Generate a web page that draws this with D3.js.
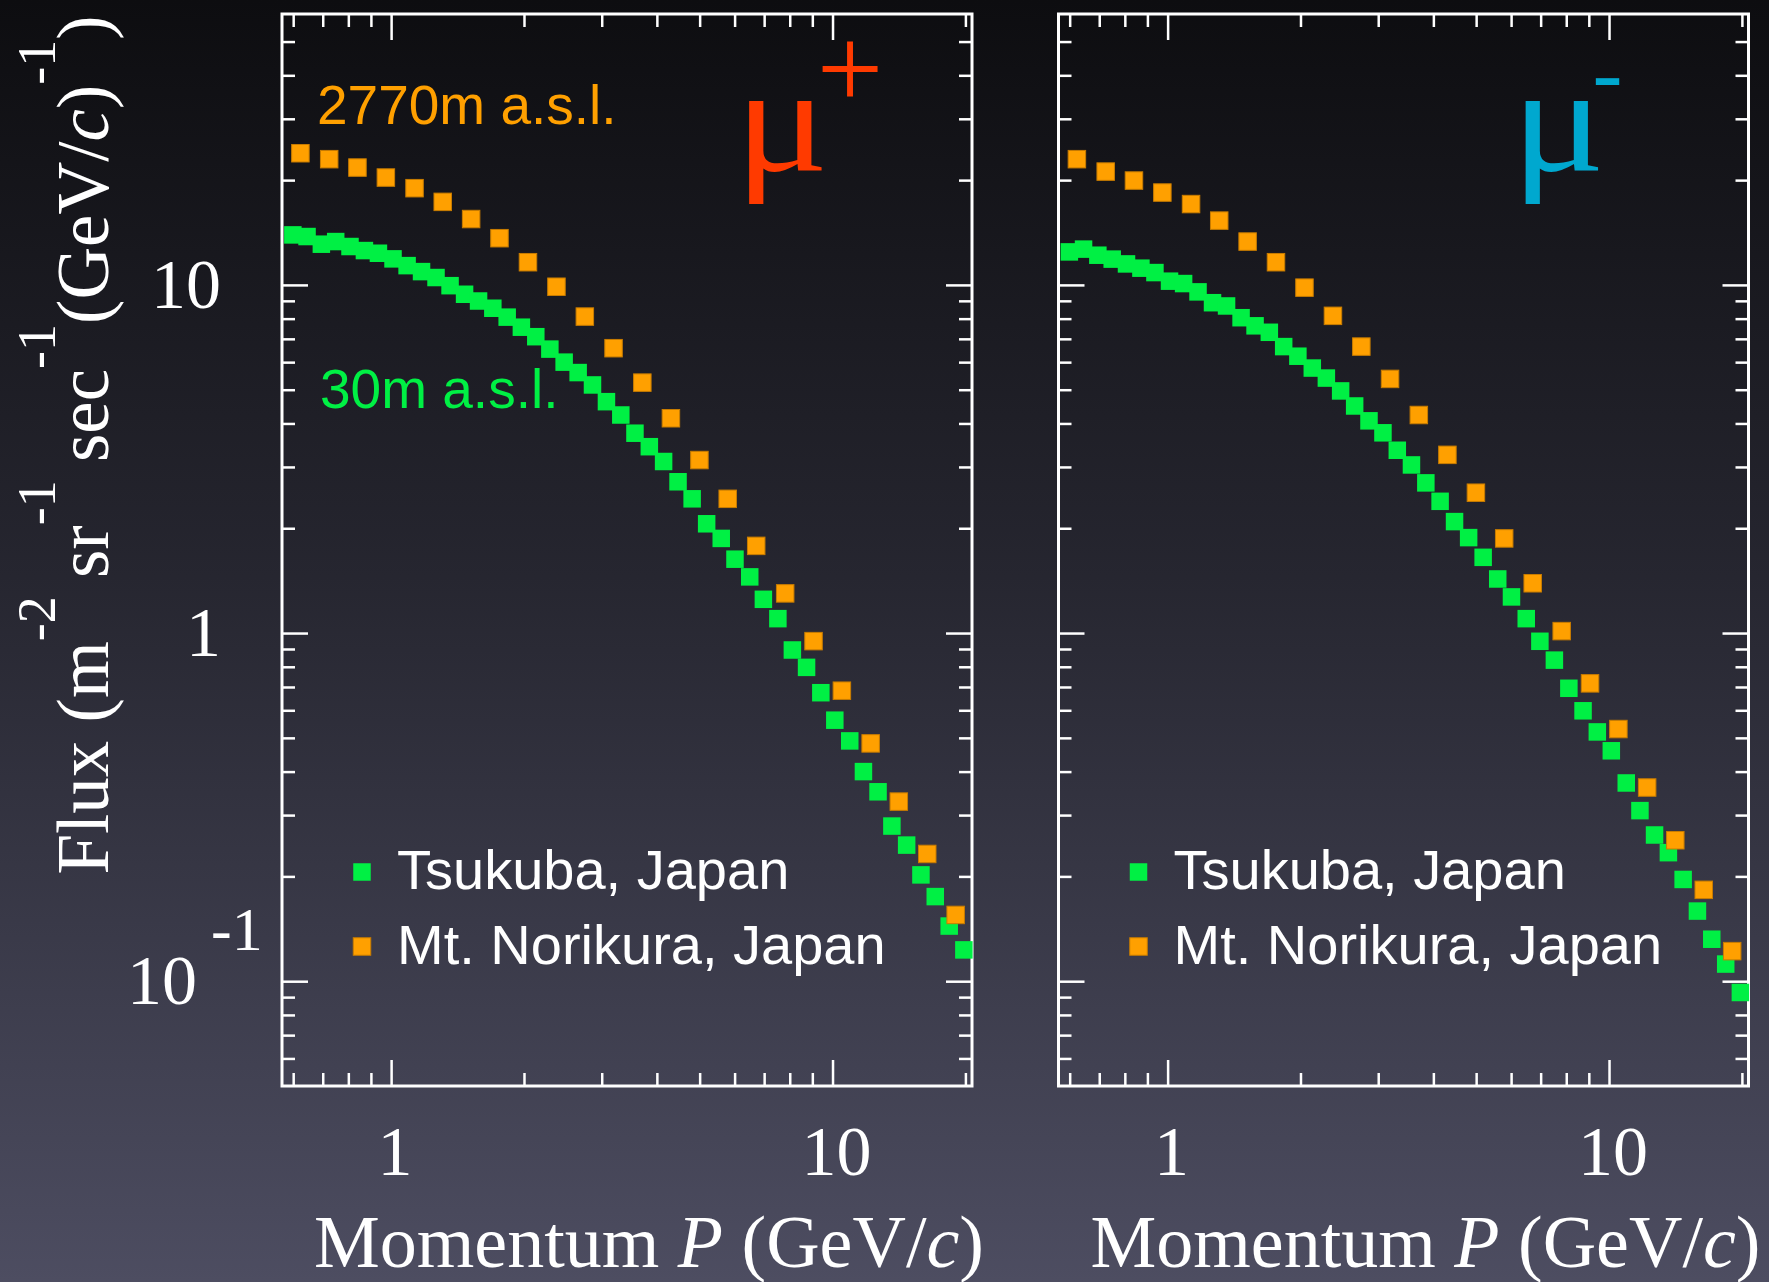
<!DOCTYPE html>
<html>
<head>
<meta charset="utf-8">
<script src="https://cdn.jsdelivr.net/npm/d3@7"></script>
<style>
    body { margin: 0; background: #000; }
    svg { display: block; }
</style>
</head>
<body>
<div id="chart"></div>
<script>
// Momentum bins (GeV/c)
let momentumTsukuba = [0.599, 0.645, 0.695, 0.749, 0.807, 0.870, 0.936, 1.010, 1.087, 1.172, 1.264, 1.360,
    1.467, 1.578, 1.700, 1.832, 1.973, 2.127, 2.289, 2.466, 2.653, 2.859, 3.075, 3.314,
    3.568, 3.846, 4.143, 4.467, 4.808, 5.186, 5.596, 6.012, 6.493, 6.972, 7.520, 8.110,
    8.733, 9.408, 10.12, 10.94, 11.75, 12.68, 13.63, 14.72, 15.86, 17.09, 18.38, 19.84];
let momentumNorikura = [0.623, 0.724, 0.839, 0.973, 1.130, 1.309, 1.518, 1.760, 2.042, 2.369, 2.747, 3.191,
    3.708, 4.304, 4.994, 5.788, 6.716, 7.812, 9.057, 10.50, 12.20, 14.13, 16.39, 19.01];

// Flux (m^-2 sr^-1 sec^-1 (GeV/c)^-1)
let fluxPlusTsukuba = [13.92, 13.77, 13.09, 13.32, 12.89, 12.55, 12.33, 11.88, 11.36, 10.92, 10.50, 9.95,
    9.40, 8.99, 8.57, 8.08, 7.56, 7.10, 6.54, 6.00, 5.60, 5.16, 4.62, 4.23,
    3.75, 3.43, 3.11, 2.72, 2.43, 2.06, 1.87, 1.63, 1.45, 1.25, 1.10, 0.894,
    0.797, 0.674, 0.562, 0.490, 0.400, 0.350, 0.279, 0.246, 0.202, 0.175, 0.144, 0.123];
let fluxPlusNorikura = [23.89, 22.97, 21.73, 20.34, 18.96, 17.32, 15.46, 13.62, 11.62, 9.88, 8.11, 6.58,
    5.24, 4.14, 3.14, 2.43, 1.78, 1.30, 0.948, 0.683, 0.482, 0.328, 0.232, 0.155];
let fluxMinusTsukuba = [12.44, 12.67, 12.17, 11.86, 11.49, 11.17, 10.85, 10.25, 10.09, 9.55, 8.89, 8.70,
    8.05, 7.63, 7.31, 6.65, 6.24, 5.77, 5.40, 4.96, 4.49, 4.07, 3.76, 3.35,
    3.04, 2.70, 2.39, 2.09, 1.88, 1.65, 1.43, 1.27, 1.10, 0.947, 0.836, 0.694,
    0.598, 0.520, 0.459, 0.371, 0.309, 0.263, 0.234, 0.196, 0.159, 0.132, 0.112, 0.0928];
let fluxMinusNorikura = [22.97, 21.16, 19.94, 18.42, 17.07, 15.30, 13.32, 11.62, 9.82, 8.15, 6.65, 5.37,
    4.23, 3.25, 2.53, 1.87, 1.39, 1.013, 0.717, 0.530, 0.360, 0.254, 0.183, 0.122];

// Axis ticks
let xMajorTicks = [1, 10];
let xMinorTicks = [0.6, 0.7, 0.8, 0.9, 2, 3, 4, 5, 6, 7, 8, 9, 20];
let yMajorTicks = [0.1, 1, 10];
let yMinorTicks = [0.06, 0.07, 0.08, 0.09, 0.2, 0.3, 0.4, 0.5, 0.6, 0.7, 0.8, 0.9,
    2, 3, 4, 5, 6, 7, 8, 9, 20, 30, 40, 50];
let xTickLabels = ['1', '10'];
let legendLabels = ['Tsukuba, Japan', 'Mt. Norikura, Japan'];

// Layout
let svgWidth = 1769;
let svgHeight = 1282;
let plotTop = 14;
let plotBottom = 1086;
let plotWidth = 690;
let markerSize = 17.5;
let green = '#00f044';
let orange = '#ffa000';
let serif = '"Liberation Serif", "Times New Roman", serif';
let sans = '"Liberation Sans", Arial, Helvetica, sans-serif';

let svg = d3.select('#chart').append('svg')
    .attr('width', svgWidth)
    .attr('height', svgHeight);

// Background gradient
let grad = svg.append('defs').append('linearGradient')
    .attr('id', 'bg')
    .attr('x1', 0).attr('y1', 0).attr('x2', 0).attr('y2', 1);
grad.append('stop').attr('offset', '0%').attr('stop-color', '#0d0d10');
grad.append('stop').attr('offset', '45%').attr('stop-color', '#262630');
grad.append('stop').attr('offset', '100%').attr('stop-color', '#4d4d61');
svg.append('rect')
    .attr('width', svgWidth)
    .attr('height', svgHeight)
    .attr('fill', 'url(#bg)');

let yScale = d3.scaleLog().domain([0.05, 60]).range([plotBottom, plotTop]);

let panels = [
    {left: 282, sign: '+', signColor: '#ff3a00', tsukuba: fluxPlusTsukuba, norikura: fluxPlusNorikura, altitudes: true},
    {left: 1058.5, sign: '-', signColor: '#00a8cf', tsukuba: fluxMinusTsukuba, norikura: fluxMinusNorikura, altitudes: false}
];

function styleTicks(g) {
    g.select('.domain').remove();
    g.selectAll('.tick line').attr('stroke', 'white').attr('stroke-width', 2.5);
}

function drawSquares(g, xScale, xs, ys, fill, stroke) {
    g.selectAll(null)
        .data(xs.map((p, i) => ({p: p, f: ys[i]})))
        .enter()
        .append('rect')
        .attr('x', d => xScale(d.p) - markerSize / 2)
        .attr('y', d => yScale(d.f) - markerSize / 2)
        .attr('width', markerSize)
        .attr('height', markerSize)
        .attr('fill', fill)
        .attr('stroke', stroke)
        .attr('stroke-width', stroke ? 1 : 0);
}

panels.forEach(panel => {
    let x0 = panel.left;
    let xScale = d3.scaleLog().domain([0.566, 20.7]).range([x0, x0 + plotWidth]);
    let g = svg.append('g');

    // Inward ticks on all four sides
    [[xMajorTicks, 26], [xMinorTicks, 13]].forEach(([vals, len]) => {
        g.append('g').attr('transform', `translate(0, ${plotBottom})`)
            .call(d3.axisBottom(xScale).tickValues(vals).tickSize(-len).tickFormat('')).call(styleTicks);
        g.append('g').attr('transform', `translate(0, ${plotTop})`)
            .call(d3.axisTop(xScale).tickValues(vals).tickSize(-len).tickFormat('')).call(styleTicks);
    });
    [[yMajorTicks, 26], [yMinorTicks, 13]].forEach(([vals, len]) => {
        g.append('g').attr('transform', `translate(${x0}, 0)`)
            .call(d3.axisLeft(yScale).tickValues(vals).tickSize(-len).tickFormat('')).call(styleTicks);
        g.append('g').attr('transform', `translate(${x0 + plotWidth}, 0)`)
            .call(d3.axisRight(yScale).tickValues(vals).tickSize(-len).tickFormat('')).call(styleTicks);
    });

    // Frame
    g.append('rect')
        .attr('x', x0).attr('y', plotTop)
        .attr('width', plotWidth).attr('height', plotBottom - plotTop)
        .attr('fill', 'none').attr('stroke', 'white').attr('stroke-width', 3);

    // Data
    drawSquares(g, xScale, momentumTsukuba, panel.tsukuba, green, null);
    drawSquares(g, xScale, momentumNorikura, panel.norikura, orange, '#c87c00');

    // x tick labels
    g.selectAll('text.xlab')
        .data(xMajorTicks).enter()
        .append('text')
        .attr('class', 'xlab')
        .attr('x', d => xScale(d) + 4)
        .attr('y', 1175)
        .attr('text-anchor', 'middle')
        .style('font-family', serif)
        .style('font-size', '70px')
        .attr('fill', 'white')
        .text((d, i) => xTickLabels[i]);

    // x axis title
    let xt = g.append('text')
        .attr('x', x0 + 367)
        .attr('y', 1267)
        .attr('text-anchor', 'middle')
        .style('font-family', serif)
        .style('font-size', '74px')
        .attr('fill', 'white');
    xt.append('tspan').text('Momentum ');
    xt.append('tspan').style('font-style', 'italic').text('P');
    xt.append('tspan').text(' (GeV/');
    xt.append('tspan').style('font-style', 'italic').text('c');
    xt.append('tspan').text(')');

    // Legend
    [[green, null], [orange, '#c87c00']].forEach(([fill, stroke], i) => {
        let cy = [872, 946.5][i];
        g.append('rect')
            .attr('x', x0 + 80 - markerSize / 2).attr('y', cy - markerSize / 2)
            .attr('width', markerSize).attr('height', markerSize)
            .attr('fill', fill).attr('stroke', stroke).attr('stroke-width', stroke ? 1 : 0);
        g.append('text')
            .attr('x', x0 + 115)
            .attr('y', [889, 964][i])
            .style('font-family', sans)
            .style('font-size', '56px')
            .attr('fill', 'white')
            .text(legendLabels[i]);
    });

    // Muon charge symbol
    g.append('text')
        .attr('transform', `translate(${x0 + 453}, 171) scale(1.15, 1)`)
        .style('font-family', serif)
        .style('font-size', '152px')
        .attr('fill', panel.signColor)
        .text('\u03bc');
    if (panel.sign === '+') {
        g.append('text')
            .attr('x', x0 + 568)
            .attr('y', 109)
            .attr('text-anchor', 'middle')
            .style('font-family', serif)
            .style('font-size', '118px')
            .attr('fill', panel.signColor)
            .text('+');
    } else {
        g.append('text')
            .attr('x', x0 + 534)
            .attr('y', 103)
            .style('font-family', serif)
            .style('font-size', '90px')
            .attr('fill', panel.signColor)
            .text('-');
    }

    // Altitude annotations
    if (panel.altitudes) {
        g.append('text')
            .attr('x', x0 + 35).attr('y', 124)
            .style('font-family', sans).style('font-size', '55px')
            .attr('fill', orange)
            .text('2770m a.s.l.');
        g.append('text')
            .attr('x', x0 + 38).attr('y', 408)
            .style('font-family', sans).style('font-size', '55px')
            .attr('fill', green)
            .text('30m a.s.l.');
    }
});

// y tick labels (left panel only)
let yLabelGroup = svg.append('g')
    .style('font-family', serif)
    .style('font-size', '70px')
    .attr('fill', 'white');
yLabelGroup.append('text')
    .attr('x', 221).attr('y', yScale(10) + 23)
    .attr('text-anchor', 'end')
    .text('10');
yLabelGroup.append('text')
    .attr('x', 221).attr('y', yScale(1) + 23)
    .attr('text-anchor', 'end')
    .text('1');
let tenth = yLabelGroup.append('text')
    .attr('x', 127).attr('y', yScale(0.1) + 23);
tenth.append('tspan').text('10');
tenth.append('tspan').attr('dx', 14).attr('dy', -54).style('font-size', '62px').text('-1');

// y axis title
let yt = svg.append('text')
    .attr('transform', 'translate(108, 445) rotate(-90)')
    .attr('text-anchor', 'middle')
    .style('font-family', serif)
    .style('font-size', '73px')
    .attr('fill', 'white');
let sup = (t) => yt.append('tspan').attr('dy', -53).style('font-size', '54px').text(t);
let base = (t) => yt.append('tspan').attr('dy', 53).text(t);
yt.append('tspan').text('Flux (m');
sup('-2');
base(' sr');
sup('-1');
base(' sec');
sup('-1');
base('(GeV/');
yt.append('tspan').style('font-style', 'italic').text('c');
yt.append('tspan').text(')');
sup('-1');
base(')');
</script>
</body>
</html>
